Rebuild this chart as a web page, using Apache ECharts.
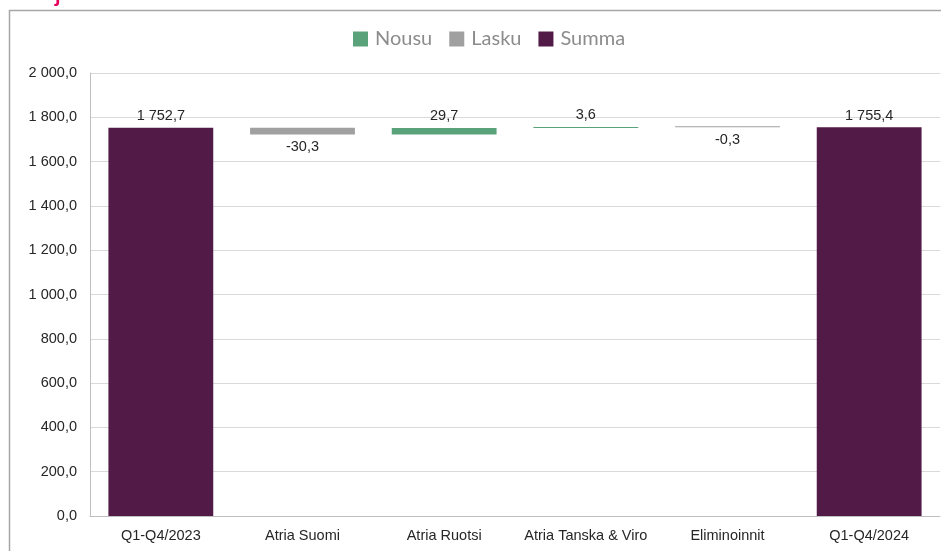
<!DOCTYPE html>
<html><head><meta charset="utf-8">
<script src="https://cdn.jsdelivr.net/npm/echarts@6/dist/echarts.min.js"></script>
<style>html,body{margin:0;padding:0;background:#fff}#c{width:941px;height:551px}</style>
</head><body><div id="c"></div>
<script>
const categories = ['Q1-Q4/2023','Atria Suomi','Atria Ruotsi','Atria Tanska & Viro','Eliminoinnit','Q1-Q4/2024'];
const totals = [1752.7, null, null, null, null, 1755.4];
const changes = [null, -30.3, 29.7, 3.6, -0.3, null];
const yTicks = {min: 0, max: 2000, interval: 200};

function fmt(v){
  const neg = v < 0;
  let s = Math.abs(v).toFixed(1).replace('.', ',');
  let [i, d] = s.split(',');
  i = i.replace(/\B(?=(\d{3})+(?!\d))/g, ' ');
  return (neg ? '-' : '') + i + ',' + d;
}

// build waterfall helper arrays
const base = [], up = [], down = [];
let run = 0;
for (let k = 0; k < categories.length; k++) {
  if (totals[k] != null) { run = totals[k]; base.push(null); up.push(null); down.push(null); continue; }
  const c = changes[k];
  if (c >= 0) { base.push(run); up.push(c); down.push(null); run += c; }
  else { run += c; base.push(run); up.push(null); down.push(-c); }
}

const labelStyle = {color:'#262626', fontFamily:'Liberation Sans, Arial', fontSize:14.5};
const chart = echarts.init(document.getElementById('c'));
chart.setOption({
  animation:false,
  legend:{data:['Nousu','Lasku','Summa'], left:353, top:29, padding:0, icon:'rect', itemWidth:15, itemHeight:15, itemGap:17,
    textStyle:{color:'#8c8c8c', fontFamily:'Lato', fontSize:20, padding:[0,0,0,2]}},
  grid:{left:90, right:1, top:73, bottom:35},
  xAxis:{type:'category', data:categories,
    axisLine:{lineStyle:{color:'#bfbfbf'}}, axisTick:{show:false},
    axisLabel:{interval:0, color:'#262626', fontFamily:'Liberation Sans, Arial', fontSize:14.5, margin:12}},
  yAxis:{type:'value', min:yTicks.min, max:yTicks.max, interval:yTicks.interval,
    axisLine:{show:true, lineStyle:{color:'#bfbfbf'}}, axisTick:{show:false},
    splitLine:{lineStyle:{color:'#d9d9d9'}},
    axisLabel:{color:'#262626', fontFamily:'Liberation Sans, Arial', fontSize:14.5, margin:13, formatter:v=>fmt(v)}},
  graphic:[
    {type:'rect', shape:{x:9.5, y:10.5, width:960, height:560}, style:{fill:'none', stroke:'#a6a6a6', lineWidth:1.5}, silent:true},
    {type:'text', left:55, top:-16, style:{text:'j', fill:'#e6005c', font:'bold 22px Lato'}}
  ],
  series:[
    {name:'base', type:'bar', stack:'w', data:base, itemStyle:{color:'transparent'}, barCategoryGap:'26%', silent:true},
    {name:'Nousu', type:'bar', stack:'w', data:up, barMinHeight:1, itemStyle:{color:'#5aa27a'},
      label:{show:true, position:'top', distance:4, ...labelStyle, formatter:p=>fmt(p.value)}},
    {name:'Lasku', type:'bar', stack:'w', data:down, barMinHeight:1, itemStyle:{color:'#a0a0a0'},
      label:{show:true, position:'bottom', distance:5, ...labelStyle, formatter:p=>fmt(-p.value)}},
    {name:'Summa', type:'bar', stack:'w', data:totals, itemStyle:{color:'#521a47'},
      label:{show:true, position:'top', distance:4, ...labelStyle, formatter:p=>fmt(p.value)}}
  ]
});
</script></body></html>
